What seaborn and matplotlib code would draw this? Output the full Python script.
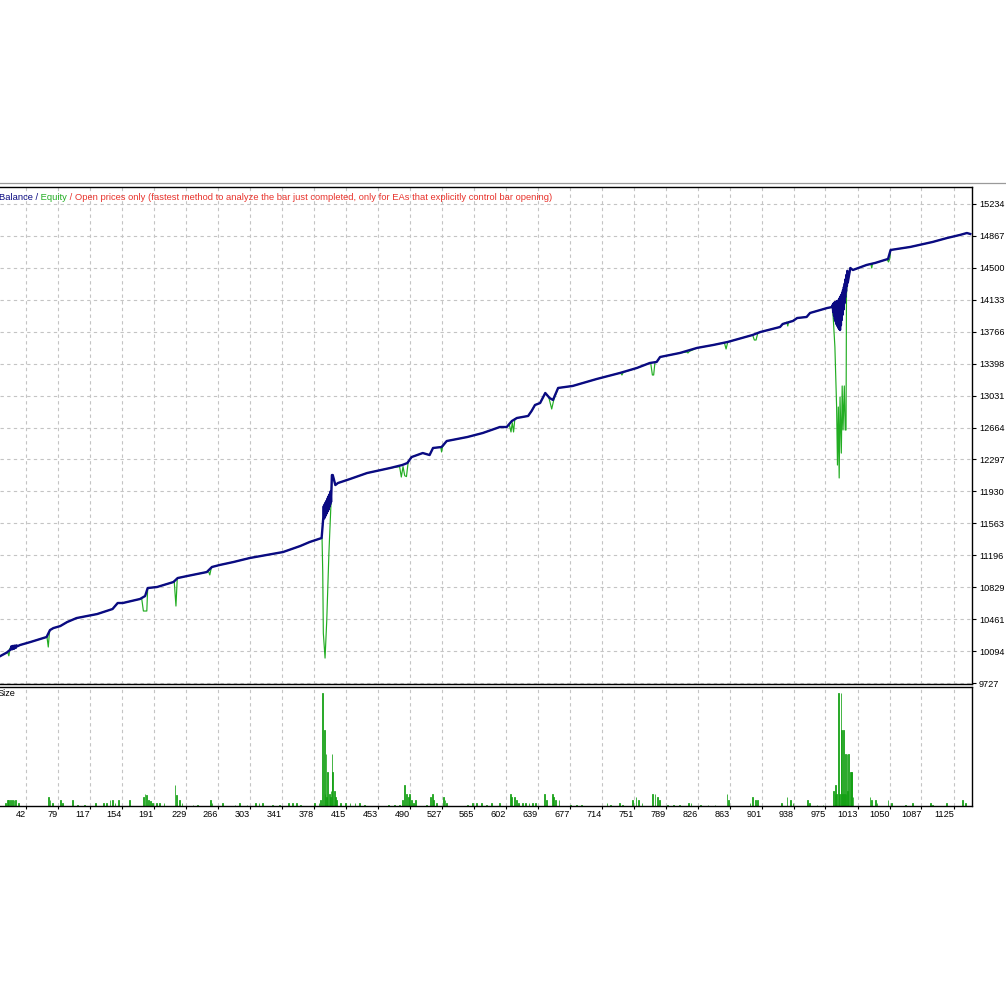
import numpy as np
import pandas as pd
import matplotlib
matplotlib.use("Agg")
import matplotlib.pyplot as plt
from matplotlib.lines import Line2D
import seaborn as sns

# ---------------- data ----------------
balance_trade = [12, 20, 23, 24, 25, 26, 27, 28, 29, 30, 31, 32, 35, 47, 66, 70, 74, 82, 90, 101,
                 125, 143, 149, 155, 175, 181, 184, 195, 214, 219, 230, 253, 259, 268, 284, 303,
                 342, 362, 373, 387,
                 389, 389.5, 390, 390.5, 391, 391.5, 392, 392.5, 393, 393.5, 394, 394.5, 395,
                 395.5, 396, 396.5, 397, 397.5, 398,
                 399, 400, 403, 406, 420, 440, 467, 481,
                 487, 492, 505, 513, 517, 527, 533, 557, 575, 595, 603, 609, 615, 628, 632, 636,
                 642, 648, 653, 657, 663, 680, 708, 735, 755, 770, 778, 782, 805, 825, 844, 861,
                 890, 899, 922, 925, 937, 942, 953, 957, 977, 983,
                 983.5, 984, 984.5, 985, 985.5, 986, 986.5, 987, 987.5, 988, 988.5, 989, 989.5,
                 990, 990.5, 991, 991.5, 992, 992.5, 993, 993.5, 994, 994.5, 995, 995.5, 996,
                 996.5, 997, 997.5, 998, 998.5, 999, 999.5, 1000, 1000.5, 1001,
                 1004, 1007, 1023, 1033, 1048,
                 1051, 1074, 1100, 1117, 1132, 1140, 1144]
balance_value = [10037, 10080, 10106, 10110, 10150, 10115, 10155, 10120, 10158, 10130, 10160,
                 10150, 10164, 10198, 10256, 10336, 10359,
                 10382, 10428, 10474, 10520, 10578, 10647, 10647, 10693, 10727, 10819, 10831,
                 10888, 10934, 10957, 11003, 11061, 11084, 11118, 11164, 11233, 11302, 11348,
                 11394,
                 11636, 11760, 11620, 11780, 11640, 11800, 11660, 11820, 11680, 11840, 11700,
                 11860, 11720, 11880, 11750, 11900, 11780, 11930, 11808,
                 12118, 12118,
                 12003, 12026, 12072, 12141, 12199, 12233, 12256, 12325, 12371, 12348, 12429,
                 12440, 12509, 12555, 12601, 12670, 12670, 12739, 12774, 12797, 12854, 12923,
                 12946, 13061, 13004, 12981, 13119, 13142, 13222, 13291, 13349, 13406, 13418,
                 13475, 13521, 13579, 13613, 13648, 13728, 13762, 13820, 13854, 13889, 13923,
                 13935, 13981, 14038, 14050,
                 14075, 13990, 14090, 13950, 14100, 13910, 14105, 13880, 14110, 13850, 14115,
                 13830, 14120, 13810, 14130, 13795, 14150, 13785, 14170, 13840, 14190, 13900,
                 14215, 13960, 14245, 14020, 14280, 14090, 14320, 14160, 14370, 14230, 14420,
                 14290, 14465, 14330,
                 14498, 14475, 14533,
                 14556, 14602, 14705, 14740, 14797, 14843, 14878, 14900, 14889]

# equity drawdowns (each list starts and ends on the balance line)
equity_dip_trade = [
    [20.5, 22, 23.5],
    [66.5, 68, 69.5],
    [177, 179, 183, 184],
    [215, 217, 218.5],
    [255, 256.5, 258],
    [387.5, 388.3, 389, 391, 393, 395.5, 398],
    [478, 480, 482, 484, 486, 488],
    [526, 527, 528],
    [606, 608, 609.5, 611, 612.5],
    [652, 655.5, 658],
    [736, 737.5, 739],
    [771, 773, 774.5, 776],
    [813, 814.5, 816],
    [857, 859, 861],
    [890, 892, 894, 896],
    [930, 931, 932],
    [983, 984, 986, 988, 989, 990, 991, 992, 993.5, 994.5, 995.5, 997, 998, 999, 999.5],
    [1028, 1029, 1030],
    [1047, 1048.5, 1050],
]
equity_dip_value = [
    [10085, 10040, 10130],
    [10256, 10141, 10330],
    [10700, 10555, 10555, 10819],
    [10895, 10612, 10930],
    [11010, 10970, 11040],
    [11394, 11000, 10300, 10014, 10450, 11220, 11808],
    [12215, 12095, 12215, 12110, 12100, 12265],
    [12440, 12383, 12440],
    [12700, 12613, 12720, 12613, 12765],
    [13015, 12877, 12985],
    [13291, 13268, 13298],
    [13408, 13268, 13268, 13412],
    [13533, 13521, 13538],
    [13640, 13567, 13648],
    [13728, 13670, 13670, 13750],
    [13875, 13831, 13880],
    [14050, 13935, 13590, 12900, 12233, 12900, 12084, 13015, 12370, 13142, 12636, 13142,
     12636, 12636, 14188],
    [14545, 14498, 14550],
    [14598, 14567, 14602],
]

size_trade = [18, 20, 22, 24, 26, 28, 30, 33, 68, 70, 73, 82, 85, 96, 102, 110, 123, 132, 136,
              140, 143, 146, 150, 163, 179, 181, 183, 185, 187, 190, 194, 198, 203, 216, 218,
              221, 224, 237, 242, 257, 259, 271, 286, 291, 300, 310, 314, 318, 330, 338, 348,
              353, 358, 362, 379, 384, 386, 388, 390, 391, 392, 393, 394, 396, 397, 398, 399,
              400, 402, 403, 404, 409, 415, 420, 426, 431, 437, 465, 472, 478, 481, 484, 486,
              488, 490, 492, 494, 497, 509, 514, 516, 518, 521, 529, 531, 533, 557, 563, 568,
              574, 579, 585, 595, 607, 609, 612, 614, 617, 621, 625, 629, 633, 637, 647, 649,
              656, 658, 660, 664, 677, 684, 690, 720, 724, 735, 738, 750, 754, 757, 761, 773,
              776, 779, 781, 791, 798, 805, 815, 818, 829, 838, 846, 860, 862, 887, 890, 893,
              896, 924, 930, 934, 937, 954, 956, 965, 972, 984, 986, 987, 988, 990, 991, 993,
              994, 995, 996, 997, 998, 999, 1000, 1001, 1002, 1004, 1005, 1006, 1007, 1027,
              1029, 1033, 1035, 1048, 1052, 1068, 1077, 1098, 1100, 1116, 1135, 1138]
size_lots = [0.01, 0.02, 0.02, 0.02, 0.02, 0.02, 0.02, 0.01, 0.03, 0.02, 0.01, 0.02, 0.01, 0.02,
             0.004, 0.004, 0.01, 0.01, 0.01, 0.02, 0.02, 0.01, 0.02, 0.02, 0.03, 0.04, 0.035,
             0.02, 0.015, 0.01, 0.01, 0.01, 0.01, 0.07, 0.035, 0.02, 0.01, 0.004, 0.004, 0.02,
             0.01, 0.01, 0.004, 0.01, 0.004, 0.01, 0.01, 0.01, 0.004, 0.004, 0.01, 0.01, 0.01,
             0.004, 0.01, 0.01, 0.02, 0.37, 0.25, 0.04, 0.17, 0.03, 0.11, 0.04, 0.03, 0.05, 0.17,
             0.11, 0.05, 0.03, 0.02, 0.01, 0.01, 0.01, 0.01, 0.01, 0.004, 0.004, 0.004, 0.004,
             0.02, 0.07, 0.04, 0.03, 0.04, 0.02, 0.01, 0.02, 0.004, 0.03, 0.04, 0.02, 0.01, 0.03,
             0.02, 0.01, 0.004, 0.01, 0.01, 0.01, 0.004, 0.01, 0.01, 0.04, 0.03, 0.03, 0.02,
             0.01, 0.01, 0.01, 0.01, 0.01, 0.01, 0.04, 0.02, 0.04, 0.03, 0.02, 0.02, 0.004,
             0.004, 0.004, 0.01, 0.004, 0.01, 0.004, 0.02, 0.03, 0.02, 0.01, 0.04, 0.04, 0.03,
             0.02, 0.004, 0.004, 0.004, 0.01, 0.01, 0.004, 0.004, 0.004, 0.04, 0.02, 0.01, 0.03,
             0.02, 0.02, 0.01, 0.03, 0.02, 0.01, 0.02, 0.01, 0.004, 0.004, 0.05, 0.04, 0.07,
             0.04, 0.37, 0.04, 0.37, 0.25, 0.04, 0.25, 0.04, 0.17, 0.04, 0.17, 0.05, 0.17, 0.11,
             0.11, 0.11, 0.03, 0.03, 0.02, 0.02, 0.01, 0.02, 0.01, 0.004, 0.01, 0.01, 0.004,
             0.01, 0.02, 0.01]

x_ticks = [42, 79, 117, 154, 191, 229, 266, 303, 341, 378, 415, 453, 490, 527, 565, 602, 639,
           677, 714, 751, 789, 826, 863, 901, 938, 975, 1013, 1050, 1087, 1125]
y_ticks = [9727, 10094, 10461, 10829, 11196, 11563, 11930, 12297, 12664, 13031, 13398, 13766,
           14133, 14500, 14867, 15234]

title_parts = ["Balance /", " Equity", " / Open prices only (fastest method to analyze the bar "
               "just completed, only for EAs that explicitly control bar opening)"]

assert len(balance_trade) == len(balance_value)
assert len(size_trade) == len(size_lots)
for a, b in zip(equity_dip_trade, equity_dip_value):
    assert len(a) == len(b)

# ---------------- assemble series ----------------
bal = pd.DataFrame({"trade": balance_trade, "value": balance_value})
mask = np.ones(len(bal), dtype=bool)
for ts in equity_dip_trade:
    mask &= ~((bal["trade"] >= ts[0]) & (bal["trade"] <= ts[-1])).to_numpy()
eq = pd.concat([bal[mask]] + [pd.DataFrame({"trade": ts, "value": vs})
                              for ts, vs in zip(equity_dip_trade, equity_dip_value)])
eq = eq.sort_values("trade").reset_index(drop=True)
size_df = pd.DataFrame({"trade": size_trade, "lots": size_lots})

# ---------------- styling ----------------
NAVY = "#0a0a82"
GREEN = "#22ad22"
BAR_GREEN = "#12a012"
RED = "#e8312a"
GRID = "#c4c4c4"
FONT = ["Liberation Sans", "DejaVu Sans"]
FS = 6.6

plt.rcParams["font.family"] = FONT
W = H = 1006
fig = plt.figure(figsize=(W / 100, H / 100), dpi=100)
fig.patch.set_facecolor("white")

def fy(py):
    return 1 - py / H

ax = fig.add_axes([0, fy(684), 972 / W, fy(187) - fy(684)])
ax2 = fig.add_axes([0, fy(806), 972 / W, fy(687) - fy(806)])

XMIN, XMAX = 11.66, 1146.0

sns.lineplot(data=eq, x="trade", y="value", ax=ax, color=GREEN, lw=0.85,
             sort=False, estimator=None, zorder=3)
sns.lineplot(data=bal, x="trade", y="value", ax=ax, color=NAVY, lw=1.7,
             sort=False, estimator=None, zorder=4)

ax.set_xlim(XMIN, XMAX)
ax.set_ylim(9716, 15429)
ax.set_xticks(x_ticks)
ax.set_yticks(y_ticks)
ax.yaxis.tick_right()
ax.tick_params(axis="y", which="both", length=3, width=0.8, pad=2, labelsize=FS,
               colors="black", left=False, right=True)
ax.tick_params(axis="x", length=0, labelbottom=False)
ax.set_xlabel("")
ax.set_ylabel("")
ax.grid(True, color=GRID, linestyle=(0, (3, 3)), linewidth=0.8)
ax.set_axisbelow(True)
for s in ["top", "right", "bottom"]:
    ax.spines[s].set_color("black")
    ax.spines[s].set_linewidth(1.0)
ax.spines["left"].set_visible(False)

# size panel
sns.barplot(data=size_df, x="trade", y="lots", ax=ax2, native_scale=True,
            color=BAR_GREEN, errorbar=None, width=0.9, linewidth=0.55,
            edgecolor=BAR_GREEN, saturation=1)
ax2.set_xlim(XMIN, XMAX)
ax2.set_ylim(0, 0.39)
ax2.set_xticks(x_ticks)
ax2.set_xticklabels([str(v) for v in x_ticks], fontsize=FS)
for lab in ax2.get_xticklabels():
    lab.set_horizontalalignment("right")
ax2.set_yticks([])
ax2.tick_params(axis="x", length=2, width=0.8, pad=1.2, colors="black")
ax2.set_xlabel("")
ax2.set_ylabel("")
ax2.grid(True, axis="x", color=GRID, linestyle=(0, (3, 3)), linewidth=0.8)
ax2.set_axisbelow(True)
for s in ["top", "right", "bottom"]:
    ax2.spines[s].set_color("black")
    ax2.spines[s].set_linewidth(1.0)
ax2.spines["left"].set_visible(False)

ax2.text(-2 / 972, 1 - 7 / 119, "Size", transform=ax2.transAxes, fontsize=FS,
         color="black", va="center", ha="left")

# window border line at top
fig.add_artist(Line2D([0, 1], [fy(183), fy(183)], color="#9a9a9a", lw=0.9))

# multi-coloured header
fig.canvas.draw()
renderer = fig.canvas.get_renderer()
xpos = -1 / W
for txt, col in zip(title_parts, [NAVY, GREEN, RED]):
    t = fig.text(xpos, fy(197), txt, color=col, fontsize=6.72, va="center", ha="left")
    bb = t.get_window_extent(renderer=renderer)
    xpos = bb.x1 / fig.bbox.width

fig.savefig("out.png", dpi=100, facecolor="white")
